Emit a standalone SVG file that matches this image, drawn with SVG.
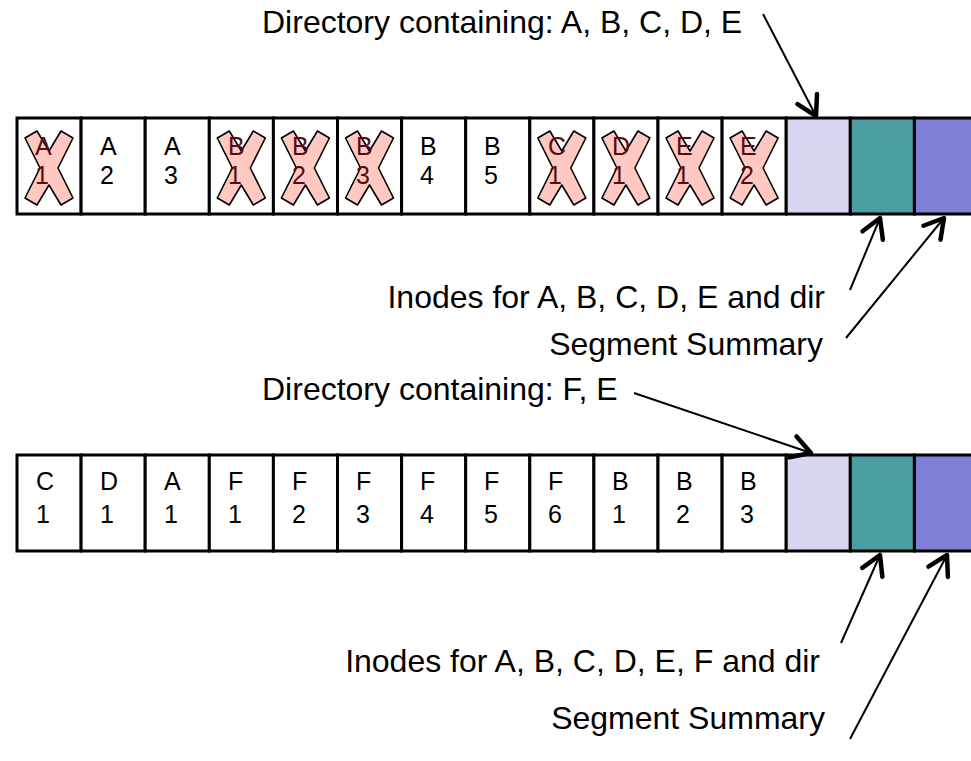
<svg xmlns="http://www.w3.org/2000/svg" xmlns:xlink="http://www.w3.org/1999/xlink" width="971" height="761" viewBox="0 0 971 761">
<style>
.cell{fill:#ffffff;stroke:#000;stroke-width:3}
.dir{fill:#d7d7f2;stroke:#000;stroke-width:3}
.ino{fill:#4a9ea2;stroke:#000;stroke-width:3}
.ss{fill:#7f7fd6;stroke:#000;stroke-width:3}
.t{font-family:"Liberation Sans",Arial,sans-serif;font-size:25px;fill:#000}
.td{font-family:"Liberation Sans",Arial,sans-serif;font-size:25px;fill:#5a0c0c}
.lbl{font-family:"Liberation Sans",Arial,sans-serif;font-size:32px;fill:#000}
.x{fill:#ffc9c1;stroke:#000;stroke-width:1.6;stroke-linejoin:round}
.c{fill:none;stroke:#000;stroke-width:2}
</style>
<defs>
<path id="X" d="M-24,-30 L-12,-37 L0,-17 L12,-37 L24,-30 L9,0 L24,30 L12,37 L0,17 L-12,37 L-24,30 L-9,0 Z"/>
<marker id="ah" markerUnits="userSpaceOnUse" markerWidth="40" markerHeight="40" viewBox="-25 -20 30 40" refX="0" refY="0" orient="auto" overflow="visible">
<path d="M-19,-11 L0,0 L-19,11" fill="none" stroke="#000" stroke-width="4.5" stroke-linecap="round" stroke-linejoin="round"/>
</marker>
</defs>
<g id="segment1">
<g id="s1-A1"><rect class="cell" x="17" y="118" width="64.1" height="96"/><use xlink:href="#X" class="x" transform="translate(49,168)"/><text class="td" x="35" y="155">A</text><text class="td" x="35" y="184">1</text></g>
<g id="s1-A2"><rect class="cell" x="81.1" y="118" width="64.1" height="96"/><text class="t" x="100" y="155">A</text><text class="t" x="100" y="184">2</text></g>
<g id="s1-A3"><rect class="cell" x="145.2" y="118" width="64.1" height="96"/><text class="t" x="164" y="155">A</text><text class="t" x="164" y="184">3</text></g>
<g id="s1-B1"><rect class="cell" x="209.3" y="118" width="64.1" height="96"/><use xlink:href="#X" class="x" transform="translate(241.3,168)"/><text class="td" x="228" y="155">B</text><text class="td" x="228" y="184">1</text></g>
<g id="s1-B2"><rect class="cell" x="273.4" y="118" width="64.1" height="96"/><use xlink:href="#X" class="x" transform="translate(305.4,168)"/><text class="td" x="292" y="155">B</text><text class="td" x="292" y="184">2</text></g>
<g id="s1-B3"><rect class="cell" x="337.5" y="118" width="64.1" height="96"/><use xlink:href="#X" class="x" transform="translate(369.5,168)"/><text class="td" x="356" y="155">B</text><text class="td" x="356" y="184">3</text></g>
<g id="s1-B4"><rect class="cell" x="401.6" y="118" width="64.1" height="96"/><text class="t" x="420" y="155">B</text><text class="t" x="420" y="184">4</text></g>
<g id="s1-B5"><rect class="cell" x="465.7" y="118" width="64.1" height="96"/><text class="t" x="484" y="155">B</text><text class="t" x="484" y="184">5</text></g>
<g id="s1-C1"><rect class="cell" x="529.8" y="118" width="64.1" height="96"/><use xlink:href="#X" class="x" transform="translate(561.8,168)"/><text class="td" x="548" y="155">C</text><text class="td" x="548" y="184">1</text></g>
<g id="s1-D1"><rect class="cell" x="593.9" y="118" width="64.1" height="96"/><use xlink:href="#X" class="x" transform="translate(625.9,168)"/><text class="td" x="612" y="155">D</text><text class="td" x="612" y="184">1</text></g>
<g id="s1-E1"><rect class="cell" x="658" y="118" width="64.1" height="96"/><use xlink:href="#X" class="x" transform="translate(690,168)"/><text class="td" x="676" y="155">E</text><text class="td" x="676" y="184">1</text></g>
<g id="s1-E2"><rect class="cell" x="722.1" y="118" width="64.1" height="96"/><use xlink:href="#X" class="x" transform="translate(754.1,168)"/><text class="td" x="740" y="155">E</text><text class="td" x="740" y="184">2</text></g>
<g id="s1-dir"><rect class="dir" x="786.2" y="118" width="64.1" height="96"/></g>
<g id="s1-inodes"><rect class="ino" x="850.3" y="118" width="64.1" height="96"/></g>
<g id="s1-summary"><rect class="ss" x="914.4" y="118" width="64.1" height="96"/></g>
</g>
<g id="segment2">
<g id="s2-C1"><rect class="cell" x="17" y="455" width="64.1" height="96"/><text class="t" x="36" y="490">C</text><text class="t" x="36" y="523">1</text></g>
<g id="s2-D1"><rect class="cell" x="81.1" y="455" width="64.1" height="96"/><text class="t" x="100" y="490">D</text><text class="t" x="100" y="523">1</text></g>
<g id="s2-A1"><rect class="cell" x="145.2" y="455" width="64.1" height="96"/><text class="t" x="164" y="490">A</text><text class="t" x="164" y="523">1</text></g>
<g id="s2-F1"><rect class="cell" x="209.3" y="455" width="64.1" height="96"/><text class="t" x="228" y="490">F</text><text class="t" x="228" y="523">1</text></g>
<g id="s2-F2"><rect class="cell" x="273.4" y="455" width="64.1" height="96"/><text class="t" x="292" y="490">F</text><text class="t" x="292" y="523">2</text></g>
<g id="s2-F3"><rect class="cell" x="337.5" y="455" width="64.1" height="96"/><text class="t" x="356" y="490">F</text><text class="t" x="356" y="523">3</text></g>
<g id="s2-F4"><rect class="cell" x="401.6" y="455" width="64.1" height="96"/><text class="t" x="420" y="490">F</text><text class="t" x="420" y="523">4</text></g>
<g id="s2-F5"><rect class="cell" x="465.7" y="455" width="64.1" height="96"/><text class="t" x="484" y="490">F</text><text class="t" x="484" y="523">5</text></g>
<g id="s2-F6"><rect class="cell" x="529.8" y="455" width="64.1" height="96"/><text class="t" x="548" y="490">F</text><text class="t" x="548" y="523">6</text></g>
<g id="s2-B1"><rect class="cell" x="593.9" y="455" width="64.1" height="96"/><text class="t" x="612" y="490">B</text><text class="t" x="612" y="523">1</text></g>
<g id="s2-B2"><rect class="cell" x="658" y="455" width="64.1" height="96"/><text class="t" x="676" y="490">B</text><text class="t" x="676" y="523">2</text></g>
<g id="s2-B3"><rect class="cell" x="722.1" y="455" width="64.1" height="96"/><text class="t" x="740" y="490">B</text><text class="t" x="740" y="523">3</text></g>
<g id="s2-dir"><rect class="dir" x="786.2" y="455" width="64.1" height="96"/></g>
<g id="s2-inodes"><rect class="ino" x="850.3" y="455" width="64.1" height="96"/></g>
<g id="s2-summary"><rect class="ss" x="914.4" y="455" width="64.1" height="96"/></g>
</g>
<g id="labels">
<text id="lbl-dir1" class="lbl" x="262" y="33">Directory containing: A, B, C, D, E</text>
<text id="lbl-ino1" class="lbl" x="825" y="308" text-anchor="end">Inodes for A, B, C, D, E and dir</text>
<text id="lbl-ss1" class="lbl" x="823" y="355" text-anchor="end">Segment Summary</text>
<text id="lbl-dir2" class="lbl" x="262" y="400">Directory containing: F, E</text>
<text id="lbl-ino2" class="lbl" x="820" y="672" text-anchor="end">Inodes for A, B, C, D, E, F and dir</text>
<text id="lbl-ss2" class="lbl" x="825" y="729" text-anchor="end">Segment Summary</text>
</g>
<g id="connectors">
<line class="c" x1="763" y1="14" x2="816" y2="116" marker-end="url(#ah)"/>
<line class="c" x1="850" y1="290" x2="880" y2="218" marker-end="url(#ah)"/>
<line class="c" x1="846" y1="338" x2="944" y2="218" marker-end="url(#ah)"/>
<line class="c" x1="634" y1="393" x2="811" y2="453" marker-end="url(#ah)"/>
<line class="c" x1="841" y1="643" x2="880" y2="555" marker-end="url(#ah)"/>
<line class="c" x1="850" y1="739" x2="947" y2="555" marker-end="url(#ah)"/>
</g>
</svg>
